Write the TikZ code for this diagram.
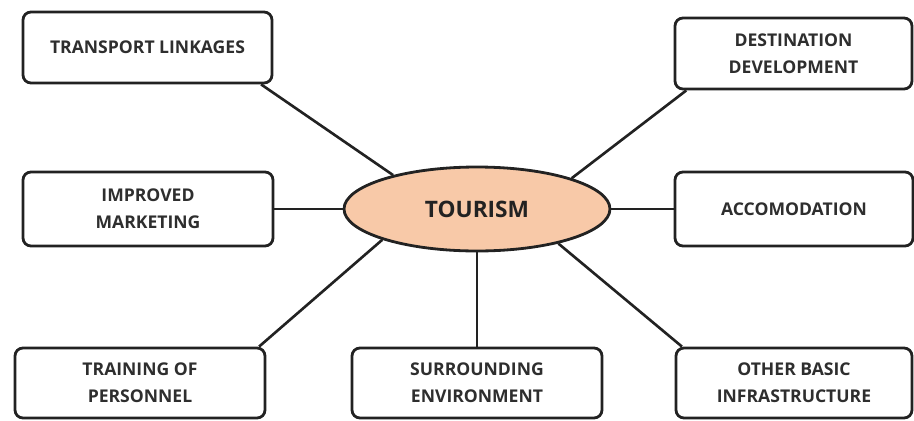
\documentclass[tikz,border=0pt]{standalone}
\usepackage{fontspec}
\setmainfont{Open Sans}
\usepackage{tikz}
\usetikzlibrary{shapes.geometric}
\definecolor{peach}{HTML}{F8C9A8}
\definecolor{ink}{HTML}{222222}
\definecolor{lbl}{HTML}{2E2E2E}

\begin{document}
\begin{tikzpicture}[x=0.02cm, y=-0.02cm,
    factor/.style={draw=ink, line width=1.6pt, rounded corners=4.5pt, fill=white,
      align=center, text=lbl, font=\bfseries\fontsize{10}{15.5}\selectfont,
      inner sep=0pt},
    hub/.style={ellipse, draw=ink, line width=1.6pt, fill=peach, inner sep=0pt,
      minimum width=5.32cm, minimum height=1.68cm, text=ink,
      font=\bfseries\fontsize{12.9}{14}\selectfont},
    link/.style={draw=ink, line width=1.5pt}]
      \useasboundingbox (0, 0) rectangle (914, 420);

      \node [hub] (e) at (477, 209) {TOURISM};

      \node [factor, minimum width=4.98cm, minimum height=1.42cm] (tl) at (147.5, 47.5) {TRANSPORT LINKAGES};
      \node [factor, minimum width=4.74cm, minimum height=1.42cm] (dd) at (793.5, 53.5) {DESTINATION\\DEVELOPMENT};
      \node [factor, minimum width=5cm, minimum height=1.48cm] (im) at (148, 209) {IMPROVED\\MARKETING};
      \node [factor, minimum width=4.76cm, minimum height=1.48cm] (ac) at (794, 209) {ACCOMODATION};
      \node [factor, minimum width=5cm, minimum height=1.4cm] (tp) at (140, 383) {TRAINING OF\\PERSONNEL};
      \node [factor, minimum width=5cm, minimum height=1.4cm] (se) at (477, 383) {SURROUNDING\\ENVIRONMENT};
      \node [factor, minimum width=4.72cm, minimum height=1.4cm] (ob) at (794, 383) {OTHER BASIC\\INFRASTRUCTURE};

      \draw [link] (tl.-18.6) -- (e.158);
      \draw [link] (dd.199.8) -- (e.18.5);
      \draw [link] (im.east) -- (e.west);
      \draw [link] (e.east) -- (ac.west);
      \draw [link] (e.198.6) -- (tp.17.4);
      \draw [link] (e.south) -- (se.north);
      \draw [link] (e.337.6) -- (ob.162.6);

    \end{tikzpicture}
\end{document}
